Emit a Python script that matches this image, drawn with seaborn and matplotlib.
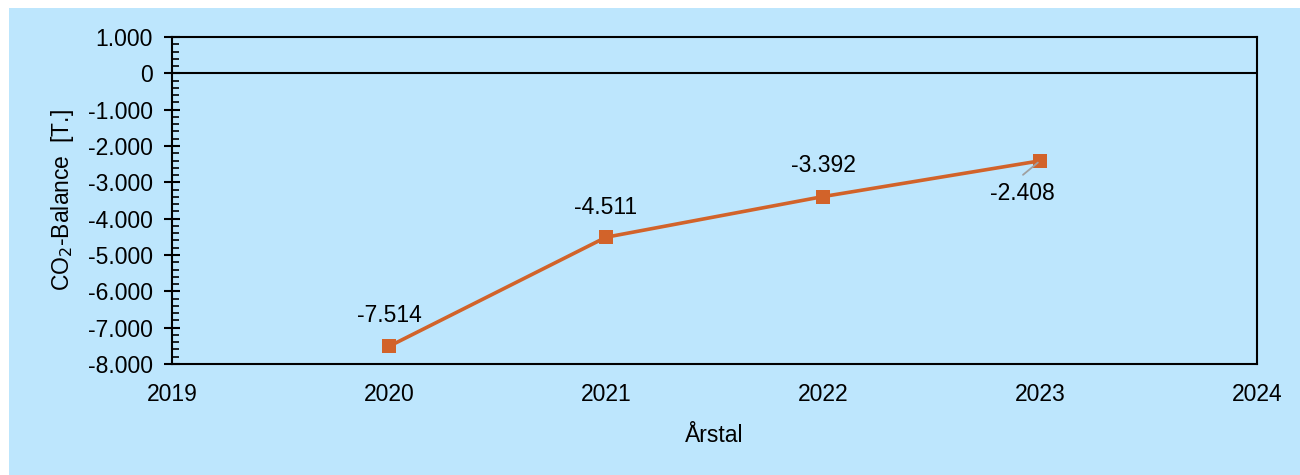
import pandas as pd
import seaborn as sns
import matplotlib.pyplot as plt
from matplotlib.ticker import FuncFormatter, MultipleLocator, AutoMinorLocator
from matplotlib.patches import Rectangle

# Data
years = [2020, 2021, 2022, 2023]
balance = [-7514, -4511, -3392, -2408]
labels = ["-7.514", "-4.511", "-3.392", "-2.408"]
label_offsets = [(0, 31), (0, 30), (0, 31), (-18, -33)]

df = pd.DataFrame({"year": years, "balance": balance})

sns.set_style("white")
plt.rcParams["font.family"] = ["Liberation Sans", "DejaVu Sans"]
plt.rcParams["text.color"] = "black"
plt.rcParams["axes.labelcolor"] = "black"
plt.rcParams["xtick.color"] = "black"
plt.rcParams["ytick.color"] = "black"

bg = "#BDE6FD"
line_col = "#D2632A"
fs = 16.5

fig = plt.figure(figsize=(13, 4.75), dpi=100, facecolor="white")
fig.patches.append(Rectangle((9 / 1300, 0), 1, 1 - 8 / 475, transform=fig.transFigure,
                             facecolor=bg, edgecolor="none", zorder=-10))
ax = fig.add_axes([172 / 1300, 1 - 364 / 475, (1257 - 172) / 1300, (364 - 37) / 475])
ax.set_facecolor(bg)

sns.lineplot(data=df, x="year", y="balance", ax=ax, color=line_col, linewidth=2.6,
             marker="s", markersize=9.5, markeredgewidth=0, zorder=3)

ax.axhline(0, color="black", linewidth=1.5, zorder=2)

# Data labels
for x, y, txt, (dx, dy) in zip(years, balance, labels, label_offsets):
    ax.annotate(txt, (x, y), xytext=(dx, dy), textcoords="offset pixels",
                ha="center", va="center", fontsize=fs, color="black")
    if dy < 0:
        # grey leader line for the label placed below the point
        ax.annotate("", (x, y), xytext=(dx + 1, dy + 19), textcoords="offset pixels",
                    arrowprops=dict(arrowstyle="-", color="#A0A0A0", lw=1.3,
                                    shrinkA=0, shrinkB=2))

ax.set_xlim(2019, 2024)
ax.set_ylim(-8000, 1000)
ax.xaxis.set_major_locator(MultipleLocator(1))
ax.yaxis.set_major_locator(MultipleLocator(1000))
ax.yaxis.set_minor_locator(AutoMinorLocator(5))

def fmt(v, pos):
    v = int(round(v))
    if v == 0:
        return "0"
    s = "{:,}".format(abs(v)).replace(",", ".")
    return "-" + s if v < 0 else s

ax.yaxis.set_major_formatter(FuncFormatter(fmt))
ax.xaxis.set_major_formatter(FuncFormatter(lambda v, p: str(int(v))))

ax.tick_params(axis="x", length=0, labelsize=fs, pad=14)
ax.tick_params(axis="y", which="major", direction="inout", length=12, width=1.5,
               labelsize=fs, pad=8)
ax.tick_params(axis="y", which="minor", direction="in", length=5, width=1.2)
ax.tick_params(axis="y", which="both", left=True)

for s in ax.spines.values():
    s.set_color("black")
    s.set_linewidth(1.5)
    s.set_visible(True)

ax.set_xlabel("Årstal", fontsize=fs, labelpad=13)
ax.set_ylabel("CO$_2$-Balance  [T.]", fontsize=fs, labelpad=8)

fig.savefig("out.png", dpi=100, facecolor=fig.get_facecolor())
